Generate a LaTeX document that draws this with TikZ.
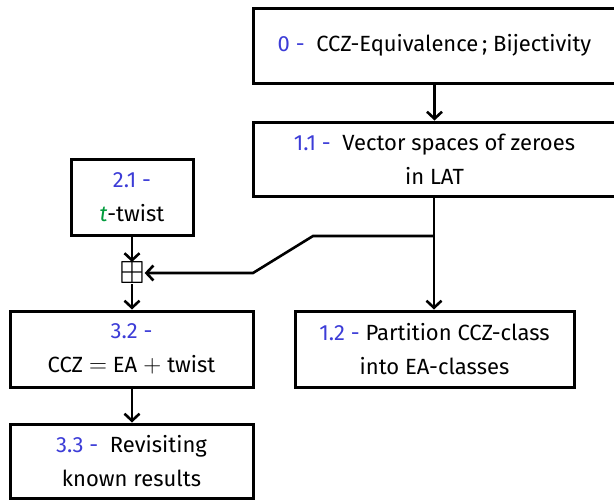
\documentclass[tikz,border=0pt]{standalone}
\usepackage{amssymb}
\usepackage{fontspec}
\setmainfont{Fira Sans}
\usetikzlibrary{arrows.meta}
\definecolor{numblue}{RGB}{60,60,215}
\definecolor{tgreen}{RGB}{0,155,60}
\tikzset{
  box/.style={draw=black, line width=3pt, rectangle, inner sep=0pt, align=center,
    font=\fontsize{22}{34}\selectfont},
  conn/.style={line width=2.6pt, -{Straight Barb[length=7pt,width=15pt,line width=2.6pt]}},
}
\newcommand{\num}[1]{\textcolor{numblue}{#1}}
\newcommand{\largesym}[1]{{\fontsize{27}{34}\selectfont$#1$}}
\begin{document}
\begin{tikzpicture}[x=1pt,y=-1pt]
\useasboundingbox (0,0) rectangle (614,499);
\node[box, minimum width=363pt, minimum height=75pt] (n0) at (434.5,45.5) {\num{0 -}\ \ CCZ-Equivalence\,;\ Bijectivity};
\node[box, minimum width=363pt, minimum height=74pt] (n11) at (434.5,159) {\num{1.1 -}\ \ Vector spaces of zeroes\\in LAT};
\node[box, minimum width=122pt, minimum height=76pt] (n21) at (132,197) {\num{2.1 -}\\\textcolor{tgreen}{\itshape t}-twist};
\node[inner sep=0pt, font=\fontsize{32}{32}\selectfont] (plus) at (132,273) {$\boxplus$};
\node[box, minimum width=243pt, minimum height=76pt] (n32) at (131.5,349) {\num{3.2 -}\\CCZ\hspace{6pt}\largesym{=}\hspace{6pt}EA\hspace{6pt}\largesym{+}\hspace{6pt}twist};
\node[box, minimum width=279pt, minimum height=76pt] (n12) at (434.5,349) {\num{1.2 -} Partition CCZ-class\\into EA-classes};
\node[box, minimum width=243pt, minimum height=74pt] (n33) at (131.5,461) {\num{3.3 -}\ \ Revisiting\\known results};
\coordinate (br) at (434,236);
\coordinate (k1) at (313,236);
\coordinate (k2) at (253,273);
\draw[conn] (n0) -- (n11);
\draw[conn] (n11.south -| br) -- (n12.north -| br);
\draw[conn] (br) -- (k1) -- (k2) -- (plus.east);
\draw[conn] (n21) -- (plus);
\draw[conn] (plus) -- (n32.north -| plus);
\draw[conn] (n32.south -| plus) -- (n33.north -| plus);
\end{tikzpicture}
\end{document}
